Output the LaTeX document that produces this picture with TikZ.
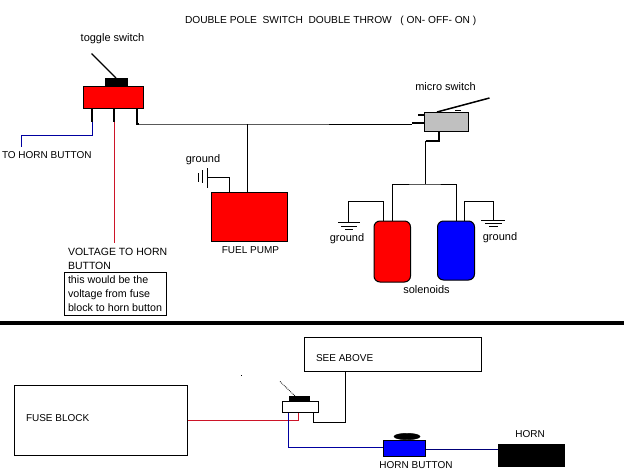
\documentclass[tikz,border=0pt]{standalone}
\usepackage{fontspec}
\usetikzlibrary{shapes.geometric}
\setmainfont{Liberation Sans}
\definecolor{wirered}{RGB}{205,20,40}
\definecolor{wireblue}{RGB}{0,0,160}
\definecolor{navy}{RGB}{0,0,120}
\definecolor{swgray}{RGB}{192,192,192}
\tikzset{
  part/.style={draw=black,line width=1pt,inner sep=0pt,outer sep=0pt},
  solid black/.style={fill=black,draw=black,inner sep=0pt,outer sep=0pt},
  lbl/.style={inner sep=0pt,outer sep=0pt,anchor=base,font=\fontsize{10}{12}\selectfont},
  lblw/.style={lbl,anchor=base west},
  small/.style={font=\fontsize{11}{13}\selectfont},
  notetext/.style={font=\fontsize{10.7}{13}\selectfont},
  wire/.style={line width=1pt,draw=black},
  pin/.style={line width=2pt,draw=black},
  bluewire/.style={line width=1pt,draw=wireblue},
  redwire/.style={line width=1pt,draw=wirered},
  plate/.style={line width=1pt,draw=black},
}
\begin{document}
\begin{tikzpicture}[x=1pt,y=-1pt]
\useasboundingbox[fill=white] (0,0) rectangle (624,474);
% title
\node[lblw,font=\fontsize{10.2}{12}\selectfont] (title) at (185,23) {DOUBLE POLE\ \ SWITCH\ \ DOUBLE THROW\ \ \ ( ON- OFF- ON )};
% toggle switch
\node[lbl,small] (togglelabel) at (112.5,41) {toggle switch};
\node[part,fill=red,minimum width=60pt,minimum height=22pt] (toggle) at (113.5,97) {};
\node[solid black,minimum width=22pt,minimum height=8pt] (togglecap) at (116,82) {};
\coordinate (levertip) at (91.5,53.5);
\draw[line width=1.3pt] (levertip) -- (togglecap.north);
\coordinate (pinA) at (92,122);
\coordinate (pinB) at (114,122);
\coordinate (junction) at (247.7,124);
\draw[pin] (toggle.south -| pinA) -- (pinA);
\draw[pin] (toggle.south -| pinB) -- (pinB);
\node[lblw] (tohorn) at (2,158) {TO HORN BUTTON};
\coordinate (tohornbend) at (21.5,135);
\coordinate (tohornend) at (21.5,147);
\draw[bluewire] (pinA) |- (tohornbend) -- (tohornend);
\coordinate (redend) at (114,243);
\draw[redwire] (pinB) -- (redend);
% label
\node[lblw,font=\fontsize{10.5}{12}\selectfont] (voltage1) at (68,255) {VOLTAGE TO HORN};
\node[lblw,font=\fontsize{10.5}{12}\selectfont] (voltage2) at (68,269) {BUTTON};
\node[part,minimum width=102.5pt,minimum height=43pt] (notebox) at (115.25,293.5) {};
\node[lblw,notetext] (note1) at (68,283.3) {this would be the};
\node[lblw,notetext] (note2) at (68,297.3) {voltage from fuse};
\node[lblw,notetext] (note3) at (68,311.3) {block to horn button};
% main wire and micro switch
\node[lbl,small] (microlabel) at (445.5,90) {micro switch};
\node[part,fill=swgray,minimum width=44.5pt,minimum height=19.5pt] (micro) at (446.25,121.75) {};
\coordinate (microlever) at (489.5,98);
\draw[line width=1.5pt] (437,112) -- (microlever);
\draw[line width=1.5pt] (455,110.5) -- (461,110.5);
\draw[pin] (418,114.5) -- (424,114.5);
\draw[pin] (412,122.5) -- (424,122.5);
\draw[pin] (137,108) -- (137,124) -- (139,124);
\draw[wire] (138,124) -- (junction) -- (412,124);
% fuel pump
\node[part,fill=red,minimum width=75.5pt,minimum height=49pt] (pump) at (249.25,216.75) {};
\draw[wire] (junction) -- (junction |- pump.north);
\node[lbl] (pumplabel) at (250.5,253.5) {FUEL PUMP};
\node[lbl,small] (pumpground) at (203,162.7) {ground};
\coordinate (pumpplate) at (207.5,177.5);
\coordinate (pumpdrop) at (229.5,192.2);
\draw[wire] (pumpdrop) |- (pumpplate);
\draw[plate] (207.5,168) -- (207.5,188);
\draw[plate] (202,170) -- (202,183);
\draw[plate] (198,173) -- (198,182);
% solenoids
\node[part,fill=red,rounded corners=6pt,minimum width=36.5pt,minimum height=61pt] (solL) at (392.25,251.5) {};
\node[part,fill=blue,rounded corners=6pt,minimum width=37pt,minimum height=59pt] (solR) at (456,250.5) {};
\node[lbl,small] (sollabel) at (426.5,293) {solenoids};
\coordinate (microout) at (439,140.5);
\coordinate (microbend) at (425.5,140.5);
\coordinate (solfeed) at (425.5,184);
\draw[pin] (micro.south -| microout) -- (microout) -- (microbend);
\draw[wire] (microbend) -- (solfeed);
\draw[wire] (solL.north) |- (solfeed) -| (solR.north);
\coordinate (gndL) at (348.5,222.5);
\coordinate (gndLtop) at (348.5,201.5);
\coordinate (gndR) at (493.5,220);
\coordinate (gndRtop) at (493.5,201.5);
\coordinate (solLtap) at (383.5,221);
\coordinate (solRtap) at (464,220.5);
\draw[wire] (solLtap) |- (gndLtop) -- (gndL);
\draw[wire] (solRtap) |- (gndRtop) -- (gndR);
\draw[plate] (338,222.5) -- (360,222.5);
\draw[plate] (341,226) -- (357,226);
\draw[plate] (345,229) -- (353,229);
\draw[plate] (481,220) -- (505,220);
\draw[plate] (485,223) -- (502,223);
\draw[plate] (489,226) -- (498,226);
\node[lbl,small] (groundL) at (347,241) {ground};
\node[lbl,small] (groundR) at (500,240) {ground};
% divider
\node[solid black,draw=none,minimum width=624pt,minimum height=4pt] (divider) at (312,323) {};
% lower part
\node[part,minimum width=173.5pt,minimum height=70pt] (fuse) at (100.75,420) {};
\node[lblw] (fuselabel) at (26,421) {FUSE BLOCK};
\node[part,minimum width=177pt,minimum height=34pt] (above) at (392.5,354) {};
\node[lblw] (abovelabel) at (316,361) {SEE ABOVE};
\fill (241,375) rectangle (242,376);
\node[part,fill=white,minimum width=36pt,minimum height=11pt] (smallsw) at (300.5,407) {};
\node[solid black,minimum width=20pt,minimum height=5.5pt] (smallcap) at (299,398.75) {};
\coordinate (smalltip) at (280,381.5);
\coordinate (smallbase) at (295,396);
\draw[line width=.8pt,densely dotted] (smalltip) -- (smallbase);
\coordinate (redturn) at (298.5,420.5);
\draw[redwire] (fuse.east |- redturn) -- (redturn) -- (redturn |- smallsw.south);
\coordinate (blueturn) at (288.5,447);
\node[part,fill=blue,minimum width=42.5pt,minimum height=16pt] (hornbtn) at (404.25,448) {};
\draw[bluewire] (blueturn |- smallsw.south) -- (blueturn) -- (hornbtn.west |- blueturn);
\coordinate (blackstart) at (313.5,412.5);
\coordinate (blackrise) at (345.5,422);
\coordinate (blackend) at (345.5,371);
\draw[wire] (blackstart) |- (blackrise) -- (blackend);
\node[solid black,ellipse,minimum width=26pt,minimum height=6.5pt] (hornbtncap) at (407,436.5) {};
\node[solid black,minimum width=66pt,minimum height=22pt] (horn) at (531,455) {};
\coordinate (hornline) at (460,449);
\draw[line width=1pt,draw=navy] (hornbtn.east |- hornline) -- (horn.west |- hornline);
\node[lbl] (hornlabel) at (530,437.3) {HORN};
\node[lbl] (hornbtnlabel) at (416,468) {HORN BUTTON};
\end{tikzpicture}
\end{document}
